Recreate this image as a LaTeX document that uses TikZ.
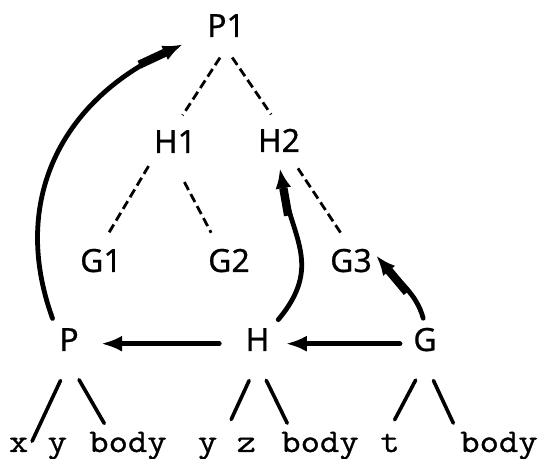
\documentclass[tikz,border=0pt]{standalone}
\usepackage{fontspec}
\newfontfamily\labfont{Noto Sans}[FakeBold=0.6]
\newfontfamily\leaffont{Latin Modern Mono}[FakeStretch=1.14,FakeBold=1]
\usetikzlibrary{arrows.meta}
\begin{document}
\begin{tikzpicture}[x=0.5pt,y=0.5pt,line cap=round,line join=round,
  lab/.style={font=\labfont\fontsize{16}{18}\selectfont,anchor=base,inner xsep=2pt,inner ysep=1.5pt,text height=11.3pt,text depth=4pt},
  leaf/.style={font=\leaffont\fontsize{16.5}{19}\selectfont,anchor=base,inner sep=2pt,text height=9.5pt,text depth=3.5pt},
  dsh/.style={line width=1.4pt,line cap=butt,dash pattern=on 4.5pt off 2.3pt},
  arr/.style={line width=2.4pt,-{Latex[length=10.5pt,width=8pt]}},
  carr/.style={line width=2.4pt,-{Rectangle[length=14pt,width=4.2pt]Latex[length=10pt,width=8pt]}},
  sub/.style={line width=1.8pt,shorten <=10pt}]
  \useasboundingbox (0,0) rectangle (541,-459);
  \node[lab] (P1) at (226,-37) {P1};
  \node[lab] (H1) at (175,-153) {H1};
  \node[lab] (H2) at (279,-152) {H2};
  \node[lab] (G1) at (101,-272) {G1};
  \node[lab] (G2) at (229,-272) {G2};
  \node[lab] (G3) at (351,-272) {G3};
  \node[lab] (P) at (69,-351) {P};
  \node[lab] (H) at (257.5,-351) {H};
  \node[lab] (G) at (425,-351) {G};
  \node[leaf] (xy) at (38,-452) {x y};
  \node[leaf] (b1) at (128,-452) {body};
  \node[leaf] (yz) at (227,-452) {y z};
  \node[leaf] (b2) at (320,-452) {body};
  \node[leaf] (t) at (390,-452) {t};
  \node[leaf] (b3) at (499,-452) {body};
  \draw[dsh,shorten <=5.5pt,shorten >=7pt] (P1.south) -- (H1.north);
  \draw[dsh,shorten <=5.5pt,shorten >=7pt] (P1.south) -- (H2.north);
  \draw[dsh,shorten <=1pt,shorten >=7.5pt] (H1.south west) -- (G1.north);
  \draw[dsh,shorten <=10pt,shorten >=7.5pt] (H1.south) -- (G2.120);
  \draw[dsh,shorten <=3pt,shorten >=7.5pt] (H2.-50) -- (G3.95);
  \draw[arr,shorten <=11pt,shorten >=9pt] (H) -- (P);
  \draw[arr,shorten <=4.5pt,shorten >=6pt] (G) -- (H);
  \draw[carr,shorten <=3.5pt] (P.north west) to[out=110,in=205,looseness=1.1] ([xshift=-10pt,yshift=2pt]P1.south west);
  \draw[carr,shorten <=3.5pt,shorten >=2.5pt] (H.north east) to[out=50,in=-80,looseness=1.2] (H2.south);
  \draw[carr,shorten <=3.5pt] (G.north) to[out=105,in=-50] (G3.20);
  \draw[sub,shorten >=-7pt] (P.south) -- (xy.north);
  \draw[sub,shorten >=3pt] (P.south) -- (b1.140);
  \draw[sub,shorten >=5pt] (H.south) -- (yz.north);
  \draw[sub,shorten >=3pt] (H.south) -- (b2.150);
  \draw[sub,shorten >=5pt] (G.south) -- (t.north);
  \draw[sub,shorten >=3pt] (G.south) -- (b3.north west);
\end{tikzpicture}
\end{document}
